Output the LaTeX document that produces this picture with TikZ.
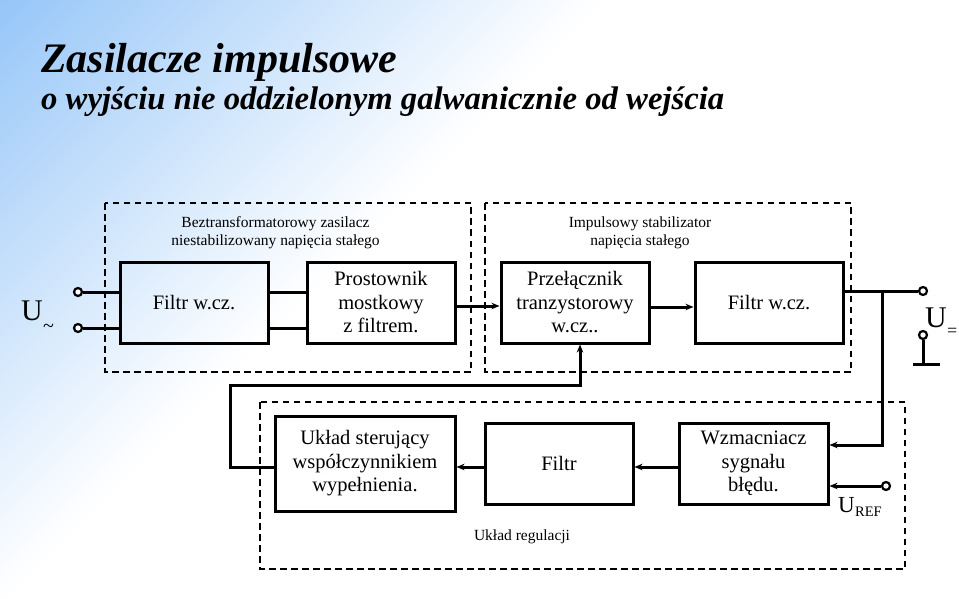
\documentclass[tikz,border=0pt]{standalone}
\usepackage{fontspec}
\setmainfont{Liberation Serif}
\usetikzlibrary{arrows.meta,calc}
\definecolor{bgblue}{RGB}{150,198,248}
\begin{document}
\begin{tikzpicture}[x=1pt,y=-1pt,
  blk/.style={draw, line width=3pt, minimum width=148pt, minimum height=81pt, inner sep=0pt, align=center, font=\fontsize{20.5}{23.5}\selectfont},
  grp/.style={draw, line width=1.6pt, dash pattern=on 6.5pt off 4.5pt},
  wire/.style={line width=3pt},
  arr/.style={wire, -{Stealth[length=8pt,width=6.5pt]}},
  term/.style={circle, draw, line width=2.2pt, fill=white, minimum size=8pt, inner sep=0pt},
  lbl/.style={font=\fontsize{15.5}{18}\selectfont, align=center, inner sep=0pt}
]
% background
\fill[white] (0,0) rectangle (959,599);
\begin{scope}
  \clip (0,0) rectangle (959,599);
  \foreach \i in {0,...,99}{
    \pgfmathsetmacro{\a}{\i*6}
    \pgfmathsetmacro{\b}{\i*6+7}
    \pgfmathtruncatemacro{\pct}{100-\i}
    \fill[bgblue!\pct!white] (\a,0) -- (\b,0) -- (0,\b) -- (0,\a) -- cycle;
  }
\end{scope}
\useasboundingbox (0,0) rectangle (959,599);

% titles
\node[anchor=base west, inner sep=0pt, font=\fontsize{42}{42}\selectfont\bfseries\itshape] (title) at (41,73) {Zasilacze impulsowe};
\node[anchor=base west, inner sep=0pt, font=\fontsize{32.7}{33}\selectfont\bfseries\itshape] (subtitle) at (41,110) {o wyjściu nie oddzielonym galwanicznie od wejścia};

% groups
\draw[grp] (105,203) rectangle (471,372);
\draw[grp] (485,203) rectangle (851,372);
\draw[grp] (260,402) rectangle (905,569);
\node[lbl, anchor=base] (g1a) at (275.5,227) {Beztransformatorowy zasilacz};
\node[lbl, anchor=base] (g1b) at (275.5,245) {niestabilizowany napięcia stałego};
\node[lbl, anchor=base] (g2a) at (640,227) {Impulsowy stabilizator};
\node[lbl, anchor=base] (g2b) at (640,245) {napięcia stałego};
\node[lbl, anchor=base] (g3) at (522,540) {Układ regulacji};

% blocks
\node[blk] (f1) at (194,302.5) {Filtr w.cz.};
\node[blk] (pr) at (381,302.5) {Prostownik\\mostkowy\\z filtrem.};
\node[blk] (sw) at (575,302.5) {Przełącznik\\tranzystorowy\\w.cz..};
\node[blk] (f2) at (769,302.5) {Filtr w.cz.};
\node[blk, minimum width=180pt, minimum height=95pt] (us) at (365,463.5) {Układ sterujący\\współczynnikiem\\wypełnienia.};
\node[blk] (fl) at (559,463.5) {Filtr};
\node[blk, minimum width=149pt] (wz) at (753.5,463.5) {Wzmacniacz\\sygnału\\błędu.};

% terminals
\node[term] (in1) at (78,292) {};
\node[term] (in2) at (78,328) {};
\node[term] (out1) at (923,291) {};
\node[term] (out2) at (923,335) {};
\node[term] (uref) at (886,486) {};
\coordinate (gnd) at (923,364);
\coordinate (j) at (882,291);
\coordinate (c2) at (230,385);

% wires
\draw[wire] (in1) -- (in1 -| f1.west);
\draw[wire] (in2) -- (in2 -| f1.west);
\draw[wire] (f1.east |- in1) -- (pr.west |- in1);
\draw[wire] (f1.east |- in2) -- (pr.west |- in2);
\draw[arr] ($(pr.east)+(0,3.5)$) -- ($(sw.west)+(0,3.5)$);
\draw[arr] ($(sw.east)+(0,4.5)$) -- ($(f2.west)+(0,4.5)$);
\draw[wire] (f2.east |- out1) -- (out1);
\draw[arr] (j) |- ($(wz.east)+(0,-18.5)$);
\draw[wire] (out2) -- (gnd);
\draw[wire] ($(gnd)+(-10,0)$) -- ($(gnd)+(17,0)$);
\draw[arr] (uref) -- (uref -| wz.east);
\draw[arr] ($(wz.west)+(0,3.5)$) -- ($(fl.east)+(0,3.5)$);
\draw[arr] ($(fl.west)+(0,3.5)$) -- ($(us.east)+(0,3.5)$);
\draw[arr] ($(us.west)+(0,3.5)$) -| (c2) -| ($(sw.south)+(5,0)$);

% voltage labels
\node[anchor=base west, inner sep=0pt, font=\fontsize{30}{30}\selectfont] (uin) at (21,320) {U};
\node[anchor=base west, inner sep=0pt, font=\fontsize{20}{20}\selectfont] (uins) at (43,332) {\textasciitilde};
\node[anchor=base west, inner sep=0pt, font=\fontsize{30}{30}\selectfont] (uout) at (925,327) {U};
\node[anchor=base west, inner sep=0pt, font=\fontsize{18}{18}\selectfont] (uouts) at (947,336) {=};
\node[anchor=base west, inner sep=0pt, font=\fontsize{23}{23}\selectfont] (ur) at (838,512) {U};
\node[anchor=base west, inner sep=0pt, font=\fontsize{14.5}{14.5}\selectfont] (urs) at (855,516) {REF};
\end{tikzpicture}
\end{document}
